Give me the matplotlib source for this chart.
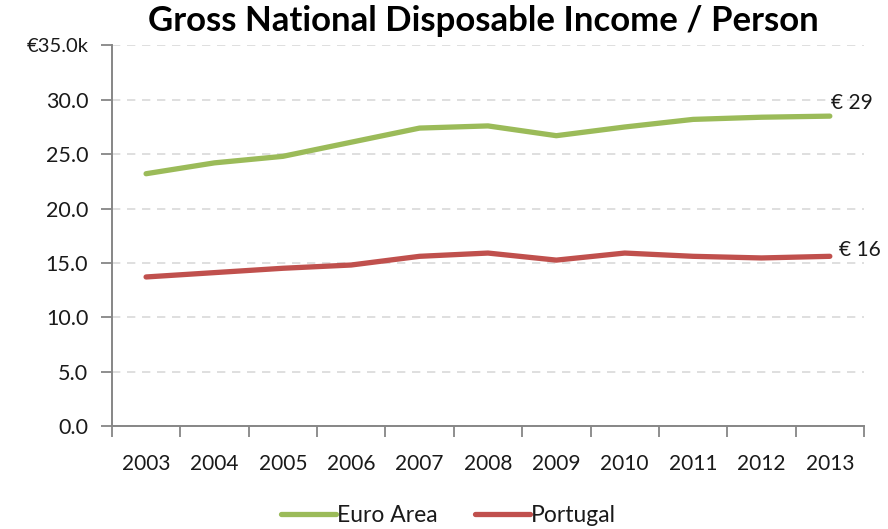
import matplotlib
matplotlib.use("Agg")
import matplotlib.pyplot as plt
from matplotlib.ticker import FuncFormatter, FixedLocator

years = ["2003", "2004", "2005", "2006", "2007", "2008", "2009", "2010", "2011", "2012", "2013"]
euro_area = [23.2, 24.2, 24.8, 26.1, 27.4, 27.6, 26.7, 27.5, 28.2, 28.4, 28.5]
portugal = [13.7, 14.1, 14.5, 14.8, 15.6, 15.9, 15.25, 15.9, 15.6, 15.45, 15.6]
end_labels = ["€ 29", "€ 16"]

green = "#9BBB59"
red = "#C0504D"
axis_grey = "#868686"
text_col = "#1A1A1A"

plt.rcParams["font.family"] = ["Lato", "DejaVu Sans"]

fig = plt.figure(figsize=(8.88, 5.29), dpi=100)
ax = fig.add_axes([0.126, 0.195, 0.847, 0.719])

x = list(range(len(years)))
ax.plot(x, euro_area, color=green, lw=3.8, solid_capstyle="round", label="Euro Area")
ax.plot(x, portugal, color=red, lw=3.8, solid_capstyle="round", label="Portugal")

ax.text(x[-1] + 0.02, euro_area[-1] + 0.3, end_labels[0], fontsize=15, color=text_col,
        ha="left", va="bottom")
ax.text(x[-1] + 0.13, portugal[-1] - 0.3, end_labels[1], fontsize=15, color=text_col,
        ha="left", va="bottom")

ax.set_xlim(-0.5, len(years) - 0.5)
ax.set_ylim(0, 35)
ax.set_yticks([0, 5, 10, 15, 20, 25, 30, 35])
ax.yaxis.set_major_formatter(FuncFormatter(
    lambda v, p: "€35.0k" if v == 35 else f"{v:.1f}"))
ax.set_xticks(x)
ax.set_xticklabels(years)
ax.xaxis.set_minor_locator(FixedLocator([i - 0.5 for i in range(len(years) + 1)]))

ax.tick_params(axis="x", which="major", length=0, pad=20, labelsize=15, labelcolor=text_col)
ax.tick_params(axis="x", which="minor", length=8, width=1.3, color=axis_grey, direction="out")
ax.tick_params(axis="y", length=8, width=1.3, color=axis_grey, direction="out",
               labelsize=15.5, labelcolor=text_col, pad=9)
for lbl in ax.get_yticklabels():
    if lbl.get_text().startswith("€"):
        lbl.set_fontsize(14.5)

ax.grid(axis="y", color="#D9D9D9", ls=(0, (5, 4)), lw=1.2)
ax.set_axisbelow(True)
for s in ["top", "right"]:
    ax.spines[s].set_visible(False)
ax.spines["left"].set_color(axis_grey)
ax.spines["bottom"].set_color(axis_grey)
ax.spines["left"].set_linewidth(1.4)
ax.spines["bottom"].set_linewidth(1.4)

fig.suptitle("Gross National Disposable Income / Person", x=0.544, y=0.99,
             fontsize=25, fontweight="bold", color="black", va="top")

fig.legend(loc="lower center", bbox_to_anchor=(0.505, -0.033), ncol=2, frameon=False,
           fontsize=16.5, handlelength=2.4, handletextpad=0.05, columnspacing=1.6,
           labelcolor=text_col)

fig.savefig("out.png", dpi=100)
